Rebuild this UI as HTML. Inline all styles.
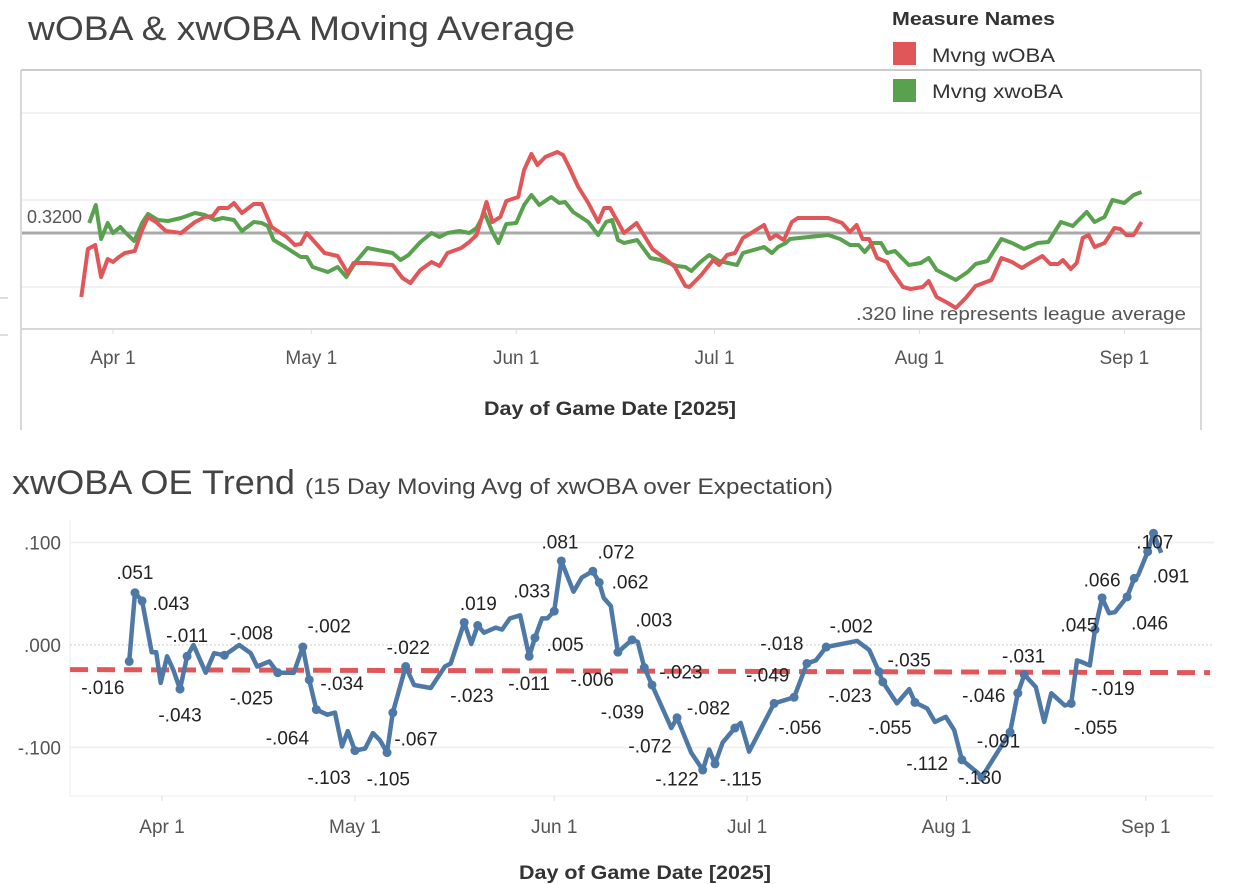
<!DOCTYPE html>
<html><head><meta charset="utf-8"><style>
html,body{margin:0;padding:0;background:#fff;}
svg{display:block;font-family:"Liberation Sans",sans-serif;}
</style></head><body>
<svg id="chart" width="1254" height="884" viewBox="0 0 1254 884">
<g id="top">
  <text x="28" y="40" font-size="34" fill="#444" textLength="547" lengthAdjust="spacingAndGlyphs">wOBA &amp; xwOBA Moving Average</text>
  <text x="892" y="25" font-size="18" font-weight="bold" fill="#333" textLength="163" lengthAdjust="spacingAndGlyphs">Measure Names</text>
  <g><rect x="893" y="42" width="23" height="23" fill="#e15759"/><text x="932" y="62" font-size="19" fill="#333" textLength="123" lengthAdjust="spacingAndGlyphs">Mvng wOBA</text></g>
  <g><rect x="893" y="79" width="23" height="23" fill="#59a14f"/><text x="932" y="98" font-size="19" fill="#333" textLength="131" lengthAdjust="spacingAndGlyphs">Mvng xwoBA</text></g>
  <line x1="21" y1="70" x2="1201" y2="70" stroke="#ccc" stroke-width="2"/>
  <line x1="21" y1="70" x2="21" y2="430" stroke="#ccc" stroke-width="1.5"/>
  <line x1="1201" y1="70" x2="1201" y2="430" stroke="#ccc" stroke-width="1.5"/>
  <line x1="21" y1="329" x2="1201" y2="329" stroke="#ccc" stroke-width="1.5"/>
  <line x1="0" y1="298" x2="8" y2="298" stroke="#bbb"/>
  <line x1="0" y1="335" x2="8" y2="335" stroke="#bbb"/>
  <g id="topGrid"></g>
  <g id="topLines"></g>
  <text x="27" y="223" font-size="18" fill="#555">0.3200</text>
  <text x="1186" y="320" font-size="18" fill="#555" text-anchor="end" textLength="330" lengthAdjust="spacingAndGlyphs">.320 line represents league average</text>
  <g id="topX"></g>
  <text x="610" y="415" font-size="19" font-weight="bold" fill="#333" text-anchor="middle" textLength="252" lengthAdjust="spacingAndGlyphs">Day of Game Date [2025]</text>
</g>
<g id="bottom">
  <text x="12" y="494" font-size="34" fill="#444" textLength="283" lengthAdjust="spacingAndGlyphs">xwOBA OE Trend</text>
  <text x="305" y="494" font-size="22" fill="#444" textLength="528" lengthAdjust="spacingAndGlyphs">(15 Day Moving Avg of xwOBA over Expectation)</text>
  <line x1="70" y1="520" x2="70" y2="796" stroke="#eee"/>
  <line x1="70" y1="796" x2="1214" y2="796" stroke="#eee"/>
  <g id="botGrid"></g>
  <g id="botLines"></g>
  <g id="botLabels"></g>
  <g id="botX"></g>
  <text x="645" y="879" font-size="19" font-weight="bold" fill="#333" text-anchor="middle" textLength="252" lengthAdjust="spacingAndGlyphs">Day of Game Date [2025]</text>
</g>
</svg>
<script>
// ---- data (day offset from Apr 1, 2025) ----
const monthLabels = ["Apr 1","May 1","Jun 1","Jul 1","Aug 1","Sep 1"];
const monthDays = [0,30,61,91,122,153];
const leagueAvg = 0.320;
const topGridValues = [0.440,0.353,0.266];
const wobaDays = [-4.8,-3.8,-2.7,-1.8,-0.8,0,0.9,1.8,3.3,4.4,5.3,6.5,8.0,10.3,12.4,13.9,15.1,16.0,17.4,18.3,19.5,21.3,22.5,24.0,26.3,27.5,28.4,29.3,32.0,34.0,35.5,36.4,38.5,42.3,43.8,45.0,46.5,48.2,49.4,50.6,52.7,53.9,55.0,56.5,57.4,58.6,59.5,61.3,62.2,63.3,64.2,65.4,67.2,68.1,69.0,70.4,71.9,73.4,74.3,75.2,77.3,79.2,81.6,83.4,85.0,86.6,87.2,89.0,90.8,91.7,92.9,94.1,95.3,96.8,98.5,99.4,100.3,101.5,102.7,103.6,108.2,110.3,111.5,112.5,113.4,114.4,115.6,117.1,117.7,119.5,120.7,122.5,123.4,124.6,126.3,127.5,129.0,130.5,131.7,132.9,134.4,136.0,137.5,139.0,140.6,141.8,143.0,143.7,144.9,145.8,146.7,147.6,148.5,150.0,151.5,152.4,153.3,154.4,155.6];
const wobaValues = [.256,.304,.308,.276,.294,.291,.296,.300,.302,.323,.336,.331,.322,.320,.331,.336,.337,.345,.345,.350,.340,.349,.349,.326,.316,.308,.309,.320,.300,.297,.280,.290,.290,.288,.275,.270,.283,.291,.287,.300,.305,.311,.318,.351,.331,.336,.352,.356,.383,.399,.388,.396,.401,.398,.386,.366,.350,.331,.345,.345,.320,.330,.304,.295,.286,.267,.266,.278,.293,.288,.298,.300,.315,.321,.328,.314,.318,.313,.331,.335,.335,.330,.321,.328,.314,.314,.295,.291,.283,.266,.264,.266,.272,.256,.250,.245,.255,.267,.270,.273,.295,.291,.285,.291,.297,.289,.289,.293,.284,.290,.315,.318,.306,.310,.325,.324,.318,.318,.331];
const xwobaDays = [-3.6,-2.6,-1.8,-0.8,0,1.1,1.8,3.2,4.4,5.3,6.8,8.3,10.3,12.4,13.9,15.4,16.6,18.3,19.5,21.3,22.5,23.4,24.3,26.3,28.4,29.3,30.2,32.5,34.0,35.3,36.7,38.5,40.8,42.3,43.5,44.7,46.5,48.2,49.4,50.6,52.4,53.9,55.0,56.2,57.4,58.3,59.5,61.0,62.2,63.3,64.5,66.3,67.5,68.4,69.6,71.0,71.9,73.4,74.6,75.5,76.4,77.3,79.3,81.3,82.8,85.3,86.6,87.5,88.7,90.2,91.7,94.4,95.3,98.5,99.7,100.6,101.8,102.4,108.2,110.0,111.5,112.8,113.7,114.9,116.2,117.1,118.3,120.4,122.2,123.4,124.6,127.5,129.3,130.5,132.3,134.4,136.0,137.8,139.9,141.5,143.4,145.2,147.3,148.5,150.0,151.2,153.0,154.4,155.6];
const xwobaValues = [.330,.348,.314,.330,.320,.326,.321,.312,.330,.339,.333,.332,.335,.340,.338,.333,.335,.333,.322,.331,.330,.327,.313,.305,.296,.296,.286,.281,.286,.276,.291,.305,.302,.300,.293,.298,.311,.320,.316,.320,.322,.320,.325,.340,.321,.310,.329,.330,.348,.358,.348,.356,.350,.351,.341,.335,.331,.318,.331,.333,.313,.310,.313,.295,.293,.287,.286,.282,.290,.298,.292,.288,.300,.306,.300,.306,.310,.314,.318,.314,.308,.308,.301,.310,.310,.300,.302,.288,.290,.295,.283,.273,.281,.289,.292,.314,.310,.304,.310,.311,.331,.327,.341,.331,.336,.353,.350,.358,.361];
const oeTicks = [0.100,0.000,-0.100];
const oeTickLabels = [".100",".000","-.100"];
const oeDays = [-5.1,-4.2,-3.1,-1.6,-0.9,-0.2,0.8,1.8,2.8,3.9,4.9,6.8,8.1,9.7,12.0,13.8,14.8,16.7,18.0,20.5,21.9,22.9,24.0,25.7,26.9,28.0,28.9,30.0,31.6,32.8,33.9,35.0,35.9,37.9,39.2,41.8,44.0,44.9,47.0,48.1,49.1,50.1,51.9,52.9,54.1,55.7,57.1,58.0,59.1,59.9,61.0,62.1,64.0,65.3,67.0,68.0,68.7,69.8,70.9,72.9,73.1,74.0,75.0,76.2,79.2,80.1,82.3,84.1,85.1,86.0,87.2,89.1,90.0,91.3,95.2,98.3,100.3,101.7,103.3,108.1,110.0,111.5,112.1,114.3,116.2,117.1,119.0,120.2,121.9,123.2,124.4,126.9,127.5,131.9,133.1,134.1,135.9,137.2,138.3,140.4,141.4,142.3,143.2,144.3,145.1,146.2,147.3,148.2,150.1,151.2,151.8,153.3,154.2,155.4];
const oeValues = [-.016,.051,.043,-.007,-.007,-.037,-.011,-.025,-.043,-.011,.000,-.027,-.008,-.010,.000,-.008,-.021,-.016,-.027,-.027,-.002,-.034,-.063,-.068,-.066,-.099,-.084,-.103,-.101,-.086,-.093,-.105,-.066,-.021,-.039,-.042,-.021,-.018,.022,.001,.019,.012,.017,.015,.026,.029,-.011,.007,.026,.026,.033,.082,.052,.066,.072,.061,.046,.038,-.007,.004,.005,.003,-.022,-.039,-.081,-.071,-.105,-.122,-.102,-.116,-.095,-.081,-.076,-.104,-.057,-.051,-.018,-.015,-.002,.004,-.005,-.026,-.036,-.057,-.043,-.056,-.062,-.075,-.070,-.083,-.112,-.125,-.129,-.085,-.047,-.029,-.041,-.075,-.047,-.059,-.057,-.015,-.017,-.020,.015,.046,.031,.032,.047,.065,.068,.091,.109,.090];
const oeDotIdx = [0,1,2,8,9,13,18,20,21,22,27,31,32,33,38,40,46,47,50,51,54,55,58,60,62,63,65,67,69,71,74,75,76,78,81,82,85,90,92,93,94,95,100,104,105,108,109,111,112];
const labelTexts = [".051",".043","-.016","-.011","-.043","-.008","-.025","-.002","-.034","-.064","-.103","-.105","-.067","-.022",".019","-.023",".033",".005","-.011",".081",".072","-.006",".062",".003","-.023","-.039","-.072","-.082","-.122","-.115","-.056","-.018","-.049","-.002","-.035","-.023","-.055","-.112","-.130","-.091","-.046","-.031",".045",".066","-.019","-.055",".046",".091",".107"];
const labelDays = [-4.2,1.4,-9.2,3.9,2.8,13.9,13.9,26.0,28.0,19.5,26.0,35.2,39.5,38.3,49.2,48.2,57.5,62.7,57.1,61.9,70.6,66.9,72.8,76.5,80.7,71.6,75.9,85.0,80.1,90.0,99.2,96.4,94.2,107.2,116.2,107.0,113.2,119.0,127.2,130.1,127.8,134.0,142.6,146.2,147.9,145.2,153.6,156.9,154.4];
const labelValues = [.071,.041,-.041,.010,-.068,.012,-.051,.019,-.037,-.090,-.129,-.130,-.091,-.002,.041,-.049,.053,.001,-.037,.101,.091,-.033,.062,.025,-.026,-.065,-.098,-.061,-.130,-.130,-.080,.002,-.029,.019,-.014,-.049,-.080,-.115,-.129,-.093,-.049,-.010,.020,.064,-.042,-.080,.022,.068,.101];
const trendDays = [-14.3,163];
const trendValues = [-0.024,-0.027];

const NS = "http://www.w3.org/2000/svg";
function mk(tag, attrs, parent){const e=document.createElementNS(NS,tag);for(const k in attrs)e.setAttribute(k,attrs[k]);parent.appendChild(e);return e;}
const tx = d => 113 + d*6.61;
const ty = v => 233 - (v-0.320)*1000;
const bx = d => 162 + d*6.43;
const by = v => 645 - v*1025;

const tg=document.getElementById('topGrid');
topGridValues.forEach(v=>{const l=mk('line',{x1:22,x2:1200,y1:ty(v),y2:ty(v),stroke:'#eee','stroke-width':1.5},tg);

});
const txg=document.getElementById('topX');
monthDays.forEach((d,i)=>{const t=mk('line',{x1:tx(d),x2:tx(d),y1:329,y2:334,stroke:'#ddd'},txg);


const s=mk('text',{x:tx(d),y:364,'font-size':19,fill:'#555','text-anchor':'middle'},txg);s.textContent=monthLabels[i];

});
const tl=document.getElementById('topLines');
const ref=mk('line',{x1:22,x2:1200,y1:ty(leagueAvg),y2:ty(leagueAvg),stroke:'#a9a9a9','stroke-width':3},tl);


function pts(ds,vs,fx,fy){return ds.map((d,i)=>fx(d).toFixed(1)+','+fy(vs[i]).toFixed(1)).join(' ');}
const gl=mk('polyline',{points:pts(xwobaDays,xwobaValues,tx,ty),fill:'none',stroke:'#59a14f','stroke-width':4,'stroke-linejoin':'round'},tl);


const rl=mk('polyline',{points:pts(wobaDays,wobaValues,tx,ty),fill:'none',stroke:'#e15759','stroke-width':4,'stroke-linejoin':'round'},tl);



const bg=document.getElementById('botGrid');
oeTicks.forEach((v,i)=>{const l=mk('line',{x1:70,x2:1214,y1:by(v),y2:by(v),stroke:v===0?'#ccc':'#eee','stroke-width':v===0?1:1.5,'stroke-dasharray':v===0?'2,2':'none'},bg);


const s=mk('text',{x:61,y:by(v)+7,'font-size':19,fill:'#555','text-anchor':'end'},bg);s.textContent=oeTickLabels[i];

});
const bxg=document.getElementById('botX');
monthDays.forEach((d,i)=>{const t=mk('line',{x1:bx(d),x2:bx(d),y1:796,y2:801,stroke:'#ddd'},bxg);


const s=mk('text',{x:bx(d),y:833,'font-size':19,fill:'#555','text-anchor':'middle'},bxg);s.textContent=monthLabels[i];

});
const bl=document.getElementById('botLines');
const tr=mk('line',{x1:bx(trendDays[0]),x2:bx(trendDays[1]),y1:by(trendValues[0]),y2:by(trendValues[1]),stroke:'#e15759','stroke-width':5,'stroke-dasharray':'18,9'},bl);


const ol=mk('polyline',{points:pts(oeDays,oeValues,bx,by),fill:'none',stroke:'#4e79a7','stroke-width':4.5,'stroke-linejoin':'round'},bl);


oeDotIdx.forEach(i=>{const c=mk('circle',{cx:bx(oeDays[i]),cy:by(oeValues[i]),r:4.5,fill:'#4e79a7'},bl);

});
const lg=document.getElementById('botLabels');
labelTexts.forEach((t,i)=>{const s=mk('text',{x:bx(labelDays[i]),y:by(labelValues[i])+7,'font-size':19,fill:'#222','text-anchor':'middle'},lg);s.textContent=t;

});
</script>
</body></html>
